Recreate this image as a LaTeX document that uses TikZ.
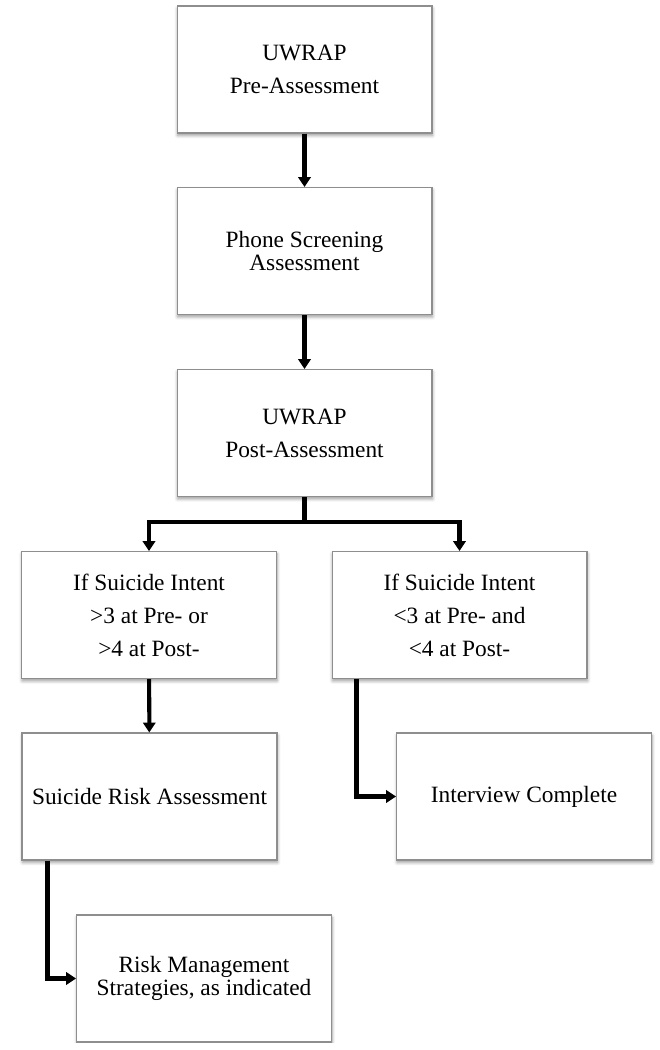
\documentclass[tikz,border=0pt]{standalone}
\usepackage{fontspec}
\setmainfont{Liberation Serif}
\usepackage{tikz}
\usetikzlibrary{positioning,arrows.meta,shadows.blur}
\definecolor{BoxLine}{HTML}{8E8E8E}

\tikzset{
    stage/.style={draw=BoxLine, line width=0.6pt, fill=white, align=center,
        minimum width=5.1cm, minimum height=2.54cm, inner sep=2pt,
        blur shadow={shadow xshift=0.3pt, shadow yshift=-1.4pt, shadow blur steps=5, shadow opacity=40}},
    loose/.style={font=\fontsize{13.3}{18.8}\selectfont},
    tight/.style={font=\fontsize{13.3}{13.2}\selectfont},
    link/.style={line width=2.3pt},
    flow/.style={link, -{Triangle[width=7pt, length=5.6pt]}}
}

\begin{document}
\begin{tikzpicture}[x=0.02cm, y=-0.02cm]
    \useasboundingbox (0,0) rectangle (659,1050);
    \clip (-5,-5) rectangle (664,1042);

    % main line
    \node[stage, loose] (pre) at (304.5,69.5) {UWRAP\\Pre-Assessment};
    \node[stage, tight] (phone) at (304.5,251) {Phone Screening\\Assessment};
    \node[stage, loose] (post) at (304.5,433) {UWRAP\\Post-Assessment};

    % branches
    \node[stage, loose] (high) at (149,615) {If Suicide Intent\\>3 at Pre- or\\>4 at Post-};
    \node[stage, loose] (low) at (459.5,615) {If Suicide Intent\\<3 at Pre- and\\<4 at Post-};
    \node[stage, loose] (sra) at (149.5,796.5) {Suicide Risk Assessment};
    \node[stage, loose] (done) at (524,796.5) {Interview Complete};
    \node[stage, tight] (rms) at (204,978.5) {Risk Management\\Strategies, as indicated};

    \coordinate (split) at (304.5,522);

    \draw[flow] (pre) -- (phone);
    \draw[flow] (phone) -- (post);
    \draw[link] (post) -- (split);
    \draw[flow] (split) -| (high);
    \draw[flow] (split) -| (low);
    \draw[flow] (high) -- (sra);
    \draw[flow] ([xshift=0.5cm]low.south west) |- (done);
    \draw[flow] ([xshift=0.52cm]sra.south west) |- (rms);
\end{tikzpicture}
\end{document}
